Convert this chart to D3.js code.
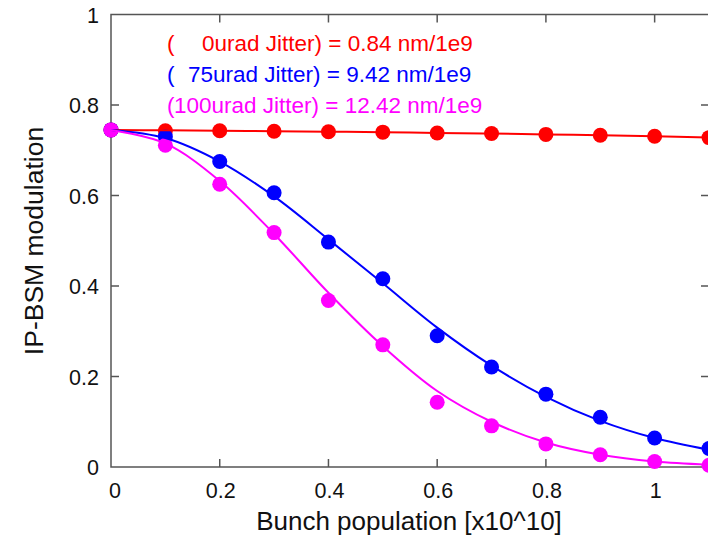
<!DOCTYPE html>
<head>
  <meta charset="utf-8">
  <script src="https://cdn.jsdelivr.net/npm/d3@7/dist/d3.min.js"></script>
  <style>
    body { margin:0; background:#fff; }
    text { font-family: "Liberation Sans", Arial, sans-serif; }
  </style>
</head>
<body>
<script>
var width = 708, height = 536;

// bunch population [x10^10]
var bunch = [0, 0.1, 0.2, 0.3, 0.4, 0.5, 0.6, 0.7, 0.8, 0.9, 1.0, 1.1];

// measured modulation
var mod0   = [0.745, 0.743, 0.743, 0.742, 0.741, 0.740, 0.738, 0.737, 0.735, 0.733, 0.731, 0.728];
var mod75  = [0.745, 0.730, 0.675, 0.606, 0.497, 0.416, 0.290, 0.221, 0.161, 0.110, 0.064, 0.041];
var mod100 = [0.745, 0.711, 0.625, 0.518, 0.368, 0.270, 0.143, 0.091, 0.051, 0.027, 0.012, 0.004];

// fitted curves, read at the same bunch values
var fit0   = [0.745, 0.744, 0.743, 0.742, 0.741, 0.740, 0.738, 0.737, 0.735, 0.733, 0.731, 0.728];
var fit75  = [0.745, 0.727, 0.675, 0.598, 0.503, 0.406, 0.308, 0.224, 0.155, 0.102, 0.064, 0.038];
var fit100 = [0.745, 0.715, 0.632, 0.515, 0.385, 0.267, 0.168, 0.100, 0.054, 0.027, 0.012, 0.005];

var jitter = ["0", "75", "100"];
var slope  = ["0.84", "9.42", "12.42"];
var colors = ["#ff0000", "#0000ff", "#ff00ff"];

var xTicks = [0, 0.2, 0.4, 0.6, 0.8, 1];
var yTicks = [0, 0.2, 0.4, 0.6, 0.8, 1];

var svg = d3.select("body").append("svg")
  .attr("width", width)
  .attr("height", height);

var x = d3.scaleLinear().domain([0, 1.1]).range([111, 709]);
var y = d3.scaleLinear().domain([0, 1]).range([467, 14.5]);

var frameColor = "#555";

// frame
svg.append("rect")
  .attr("x", x(0)).attr("y", y(1))
  .attr("width", x(1.1) - x(0)).attr("height", y(0) - y(1))
  .attr("fill", "none").attr("stroke", frameColor).attr("stroke-width", 1.5);

// inward ticks, mirrored
var tl = 8;
var xt = svg.append("g");
xTicks.forEach(function(t) {
  if (t === 0) return;
  xt.append("line").attr("x1", x(t)).attr("x2", x(t)).attr("y1", y(0)).attr("y2", y(0) - tl)
    .attr("stroke", frameColor).attr("stroke-width", 1.5);
  xt.append("line").attr("x1", x(t)).attr("x2", x(t)).attr("y1", y(1)).attr("y2", y(1) + tl)
    .attr("stroke", frameColor).attr("stroke-width", 1.5);
});
yTicks.forEach(function(t) {
  if (t === 0 || t === 1) return;
  xt.append("line").attr("x1", x(0)).attr("x2", x(0) + tl).attr("y1", y(t)).attr("y2", y(t))
    .attr("stroke", frameColor).attr("stroke-width", 1.5);
  xt.append("line").attr("x1", x(1.1)).attr("x2", x(1.1) - tl).attr("y1", y(t)).attr("y2", y(t))
    .attr("stroke", frameColor).attr("stroke-width", 1.5);
});

// tick labels
svg.append("g").selectAll("text").data(xTicks).enter().append("text")
  .attr("x", function(d) { return x(d) + (d === 0 ? 4 : 1); })
  .attr("y", 498)
  .attr("text-anchor", "middle")
  .attr("font-size", 21.5)
  .attr("fill", "#111")
  .text(function(d) { return d; });

svg.append("g").selectAll("text").data(yTicks).enter().append("text")
  .attr("x", 99)
  .attr("y", function(d) { return y(d) + 8; })
  .attr("text-anchor", "end")
  .attr("font-size", 21.5)
  .attr("fill", "#111")
  .text(function(d) { return d; });

// axis titles
svg.append("text")
  .attr("x", 409).attr("y", 530)
  .attr("text-anchor", "middle")
  .attr("font-size", 26)
  .attr("fill", "#111")
  .text("Bunch population [x10^10]");

svg.append("text")
  .attr("transform", "translate(43,241) rotate(-90)")
  .attr("text-anchor", "middle")
  .attr("font-size", 26.5)
  .attr("fill", "#111")
  .text("IP-BSM modulation");

// curves and points
var series = [
  { pts: mod0, fit: fit0 },
  { pts: mod75, fit: fit75 },
  { pts: mod100, fit: fit100 }
];

var line = d3.line()
  .x(function(d, i) { return x(bunch[i]); })
  .y(function(d) { return y(d); })
  .curve(d3.curveCatmullRom);

var plot = svg.append("g");

series.forEach(function(s, k) {
  plot.append("g").selectAll("circle")
    .data(s.pts).enter().append("circle")
    .attr("cx", function(d, i) { return x(bunch[i]); })
    .attr("cy", function(d) { return y(d); })
    .attr("r", 7.5)
    .attr("fill", colors[k]);
});

series.forEach(function(s, k) {
  plot.append("path")
    .datum(s.fit)
    .attr("d", line)
    .attr("fill", "none")
    .attr("stroke", colors[k])
    .attr("stroke-width", 2);
});

// legend
var legendX = [202, 188, 174];
var legendY = [51, 82, 113];
jitter.forEach(function(j, k) {
  var t = svg.append("text")
    .attr("y", legendY[k])
    .attr("font-size", 22.5)
    .attr("fill", colors[k]);
  t.append("tspan").attr("x", 167).text("(");
  t.append("tspan").attr("x", legendX[k])
    .text(j + "urad Jitter) = " + slope[k] + " nm/1e9");
});
</script>
</body>
